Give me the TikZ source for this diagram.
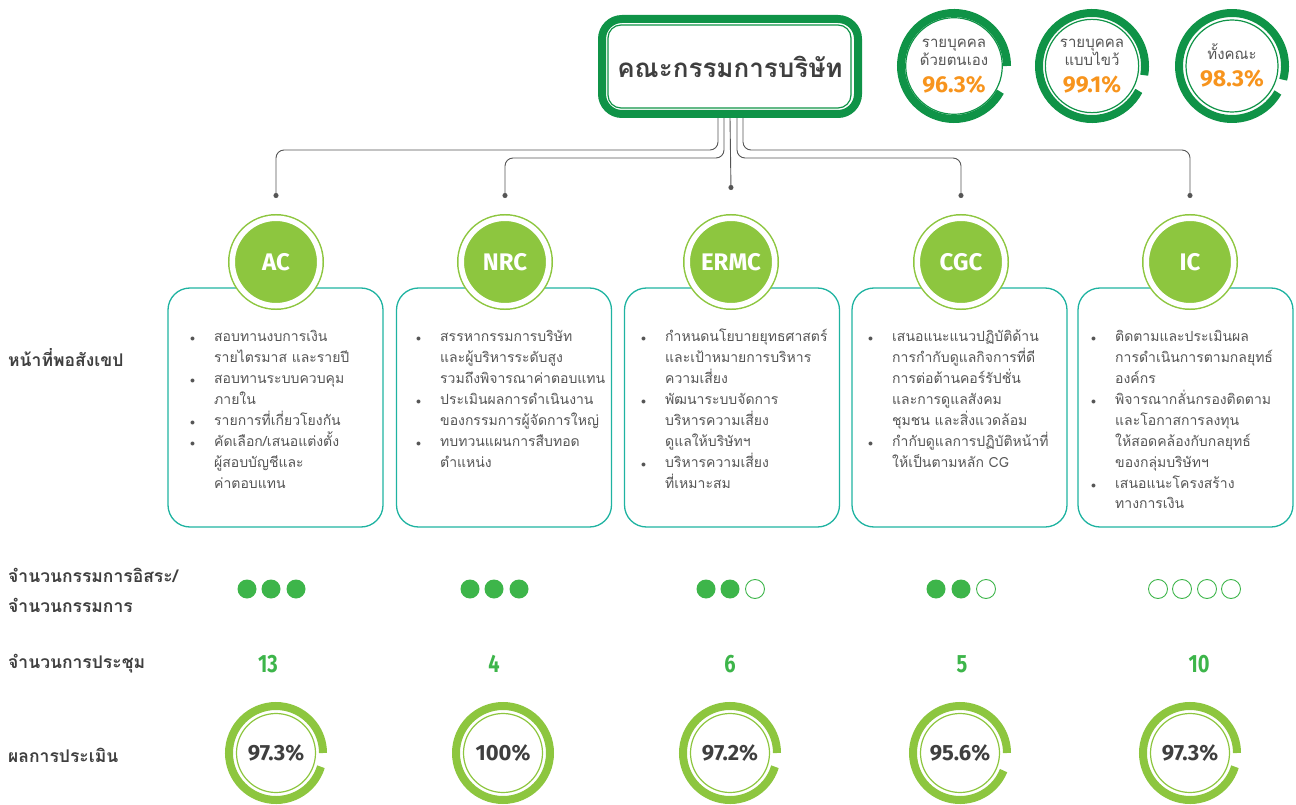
\documentclass[tikz,border=0pt]{standalone}
\usepackage{fontspec}
\setmainfont{Fira Sans}
\newfontfamily\thaifont[Script=Thai]{Loma}
\newfontfamily\condfont[FakeStretch=0.8]{Fira Sans}
\usetikzlibrary{arrows.meta}
\usetikzlibrary{calc}
\usetikzlibrary{positioning}
\definecolor{board-green}{HTML}{0F9347}
\definecolor{com-green}{HTML}{8DC63F}
\definecolor{dot-green}{HTML}{3DB54A}
\definecolor{box-teal}{HTML}{1FB3A1}
\definecolor{score-orange}{HTML}{F7941D}
\definecolor{text-dark}{HTML}{3F3F3F}
\definecolor{text-gray}{HTML}{555555}
\definecolor{line-gray}{HTML}{555555}
\newcommand{\dutybullet}{\makebox[24pt][l]{{\fontsize{10}{10}\selectfont$\bullet$}}}

\begin{document}
\begin{tikzpicture}[x=1pt, y=-1pt]

    % canvas
    \useasboundingbox (0,0) rectangle (1296,805);

    % board of directors
    \node[draw=board-green, line width=8pt, rounded corners=20pt, minimum width=256pt, minimum height=95pt,
          text=text-dark, font=\thaifont\bfseries\fontsize{26}{30}\selectfont] (board) at (730,66.5) {คณะกรรมการบริษัท};
    \draw[board-green, line width=1.2pt, rounded corners=13pt]
        ([shift={(10,10)}]board.north west) rectangle ([shift={(-11,-10)}]board.south east);

    % board assessment
    \begin{scope}[every node/.style={circle, draw=board-green, line width=1.2pt, minimum size=92pt, align=center,
                  text=text-gray, font=\thaifont\fontsize{15}{18}\selectfont}]
        \node (self) at (954,66) {รายบุคคล\\ด้วยตนเอง\\[9pt]{\rmfamily\bfseries\color{score-orange}\fontsize{23}{26}\selectfont 96.3\%}};
        \node (cross) at (1092,66) {รายบุคคล\\แบบไขว้\\[9pt]{\rmfamily\bfseries\color{score-orange}\fontsize{23}{26}\selectfont 99.1\%}};
        \node (whole) at (1232,66) {ทั้งคณะ\\[9pt]{\rmfamily\bfseries\color{score-orange}\fontsize{23}{26}\selectfont 98.3\%}};
    \end{scope}
    \begin{scope}[board-green, line width=8pt]
        \draw (self.center) ++(29:53) arc[start angle=29, end angle=360, radius=53];
        \draw (cross.center) ++(28:53) arc[start angle=28, end angle=370, radius=53];
        \draw (whole.center) ++(30:53) arc[start angle=30, end angle=375, radius=53];
    \end{scope}

    % duty boxes
    \begin{scope}[every node/.style={draw=box-teal, line width=1.3pt, rounded corners=22pt, minimum width=215pt, minimum height=239pt}]
        \node (acbox) at (275.5,407.5) {};
        \node (nrcbox) at (504,407.5) {};
        \node (ermcbox) at (732,407.5) {};
        \node (cgcbox) at (959.5,407.5) {};
        \node (icbox) at (1185.5,407.5) {};
    \end{scope}

    % committees
    \begin{scope}[every node/.style={circle, fill=com-green, draw=white, line width=5.5pt, minimum size=87.5pt,
                  preaction={draw=com-green, line width=8.5pt}, text=white, font=\bfseries\fontsize{24}{24}\selectfont}]
        \node (ac) at (276,262) {AC};
        \node (nrc) at (505,262) {NRC};
        \node (ermc) at (731,262) {ERMC};
        \node (cgc) at (961,262) {CGC};
        \node (ic) at (1190,262) {IC};
    \end{scope}

    % links
    \begin{scope}[line-gray, line width=0.9pt, rounded corners=8pt]
        \draw[-{Circle[length=5pt]}] ([xshift=-12pt]board.south) -- ++(0,32) -| ($(ac.center)+(0,-64)$);
        \draw[-{Circle[length=5pt]}] ([xshift=-6pt]board.south) -- ++(0,40) -| ($(nrc.center)+(0,-64)$);
        \draw[-{Circle[length=5pt]}] (board.south) -- ($(ermc.center)+(0,-72)$);
        \draw[-{Circle[length=5pt]}] ([xshift=7pt]board.south) -- ++(0,40) -| ($(cgc.center)+(0,-64)$);
        \draw[-{Circle[length=5pt]}] ([xshift=13pt]board.south) -- ++(0,32) -| ($(ic.center)+(0,-64)$);
    \end{scope}

    % duties
    \begin{scope}[every node/.style={anchor=base west, inner sep=0pt, text=text-gray,
                  font=\thaifont\fontsize{14}{21}\selectfont}]
        \node (actext) at (190,341) {\begin{tabular}[t]{@{}l@{}l@{}}
            \dutybullet & สอบทานงบการเงิน \\ & รายไตรมาส และรายปี \\
            \dutybullet & สอบทานระบบควบคุม \\ & ภายใน \\
            \dutybullet & รายการที่เกี่ยวโยงกัน \\
            \dutybullet & คัดเลือก/เสนอแต่งตั้ง \\ & ผู้สอบบัญชีและ \\ & ค่าตอบแทน
        \end{tabular}};
        \node (nrctext) at (416,341) {\begin{tabular}[t]{@{}l@{}l@{}}
            \dutybullet & สรรหากรรมการบริษัท \\ & และผู้บริหารระดับสูง \\ & รวมถึงพิจารณาค่าตอบแทน \\
            \dutybullet & ประเมินผลการดำเนินงาน \\ & ของกรรมการผู้จัดการใหญ่ \\
            \dutybullet & ทบทวนแผนการสืบทอด \\ & ตำแหน่ง
        \end{tabular}};
        \node (ermctext) at (641,341) {\begin{tabular}[t]{@{}l@{}l@{}}
            \dutybullet & กำหนดนโยบายยุทธศาสตร์ \\ & และเป้าหมายการบริหาร \\ & ความเสี่ยง \\
            \dutybullet & พัฒนาระบบจัดการ \\ & บริหารความเสี่ยง \\ & ดูแลให้บริษัทฯ \\
            \dutybullet & บริหารความเสี่ยง \\ & ที่เหมาะสม
        \end{tabular}};
        \node (cgctext) at (868,341) {\begin{tabular}[t]{@{}l@{}l@{}}
            \dutybullet & เสนอแนะแนวปฏิบัติด้าน \\ & การกำกับดูแลกิจการที่ดี \\ & การต่อต้านคอร์รัปชั่น \\
              & และการดูแลสังคม \\ & ชุมชน และสิ่งแวดล้อม \\
            \dutybullet & กำกับดูแลการปฏิบัติหน้าที่ \\ & ให้เป็นตามหลัก CG
        \end{tabular}};
        \node (ictext) at (1091,341) {\begin{tabular}[t]{@{}l@{}l@{}}
            \dutybullet & ติดตามและประเมินผล \\ & การดำเนินการตามกลยุทธ์ \\ & องค์กร \\
            \dutybullet & พิจารณากลั่นกรองติดตาม \\ & และโอกาสการลงทุน \\ & ให้สอดคล้องกับกลยุทธ์ \\ & ของกลุ่มบริษัทฯ \\
            \dutybullet & เสนอแนะโครงสร้าง \\ & ทางการเงิน
        \end{tabular}};
    \end{scope}

    % row labels
    \begin{scope}[every node/.style={anchor=west, inner sep=0pt, align=left, text=text-dark,
                  font=\thaifont\bfseries\fontsize{17.5}{30}\selectfont}]
        \node (duty) at (8,358) {หน้าที่พอสังเขป};
        \node (indep) at (8,590) {จำนวนกรรมการอิสระ/\\จำนวนกรรมการ};
        \node (meet) at (8,664) {จำนวนการประชุม};
        \node (eval) at (8,755) {ผลการประเมิน};
    \end{scope}

    % independent directors
    \foreach \x in {247,271,296,470,494,519,706,730,936,961}
        \fill[dot-green] (\x,589) circle[radius=9.5];
    \foreach \x in {755,986,1158,1182,1207,1231}
        \draw[dot-green, line width=0.9pt] (\x,589) circle[radius=9.5];

    % meetings
    \begin{scope}[every node/.style={text=dot-green, font=\condfont\bfseries\fontsize{25}{25}\selectfont}]
        \node (acmeet) at (268,664) {13};
        \node (nrcmeet) at (494,664) {4};
        \node (ermcmeet) at (730,664) {6};
        \node (cgcmeet) at (962,664) {5};
        \node (icmeet) at (1199,664) {10};
    \end{scope}

    % assessment
    \begin{scope}[every node/.style={circle, draw=com-green, line width=1.2pt, minimum size=79pt,
                  text=text-dark, font=\bfseries\fontsize{22}{24}\selectfont}]
        \node (aceval) at (276,753) {97.3\%};
        \node (nrceval) at (503,753) {100\%};
        \node (ermceval) at (730,753) {97.2\%};
        \node (cgceval) at (960,753) {95.6\%};
        \node (iceval) at (1190,753) {97.3\%};
    \end{scope}
    \begin{scope}[com-green, line width=8pt]
        \draw (aceval.center) ++(17:47) arc[start angle=17, end angle=360, radius=47];
        \draw (nrceval.center) circle[radius=47];
        \draw (ermceval.center) ++(17:47) arc[start angle=17, end angle=360, radius=47];
        \draw (cgceval.center) ++(22:47) arc[start angle=22, end angle=360, radius=47];
        \draw (iceval.center) ++(17:47) arc[start angle=17, end angle=360, radius=47];
    \end{scope}

\end{tikzpicture}
\end{document}
